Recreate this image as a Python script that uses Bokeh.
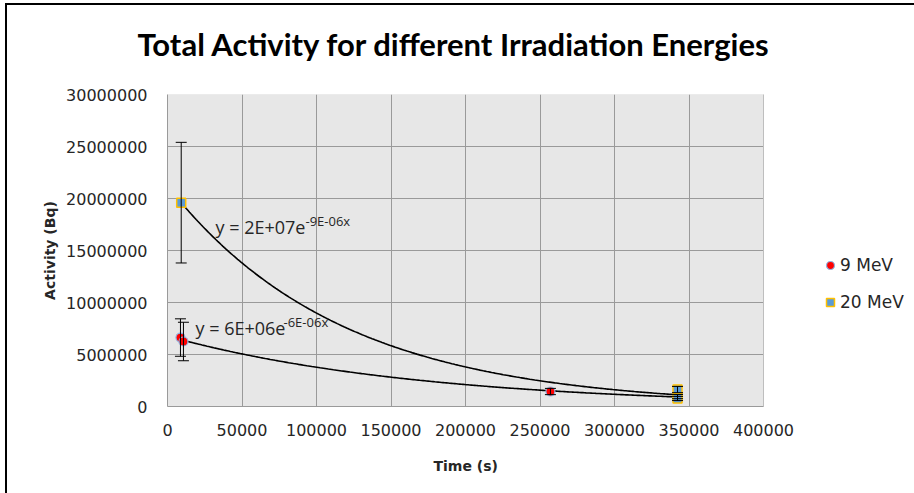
import numpy as np
from bokeh.plotting import figure
from bokeh.models import (ColumnDataSource, Whisker, TeeHead, Label, Legend, LegendItem,
                          FixedTicker, NumeralTickFormatter, BoxAnnotation, Title)
from bokeh.embed import file_html
from bokeh.resources import INLINE

# ---- data ----
time_9 = [8700, 10700, 257000, 342300]
act_9 = [6.63e6, 6.25e6, 1.44e6, 0.95e6]
err_9 = [1.80e6, 1.85e6, 0.30e6, 0.20e6]

time_20 = [9200, 342300, 342300]
act_20 = [19.6e6, 1.63e6, 0.77e6]
err_20 = [5.8e6, 0.30e6, 0.20e6]

x_ticks = [0, 50000, 100000, 150000, 200000, 250000, 300000, 350000, 400000]
y_ticks = [0, 5000000, 10000000, 15000000, 20000000, 25000000, 30000000]
x_min, x_max = 0, 400000
y_min, y_max = 0, 30000000

series_names = ["9 MeV", "20 MeV"]
eq_9 = ("y = 6E+06e", "-6E-06x")
eq_20 = ("y = 2E+07e", "-9E-06x")

# ---- figure: the frame runs on to the right edge so the legend can sit there ----
plot_w, frame_w = 596, 747
p = figure(frame_width=frame_w, frame_height=312, output_backend="svg", toolbar_location=None,
           x_range=(x_min, x_max * frame_w / plot_w), y_range=(y_min, y_max),
           min_border_left=160, min_border_right=0, min_border_top=89, min_border_bottom=87,
           background_fill_color="white", border_fill_color="white")
p.styles = {"margin-top": "3px", "margin-left": "5px",
            "border-top": "2px solid black", "border-left": "2px solid black"}
p.outline_line_color = None

# plot area (grey), cover of the grid beyond it (white), and its border
p.add_layout(BoxAnnotation(left=x_min, right=x_max, bottom=y_min, top=y_max,
                           fill_color="#E7E7E7", fill_alpha=1, line_color=None, level="image"))
p.add_layout(BoxAnnotation(left=x_max, fill_color="white", fill_alpha=1,
                           line_color=None, level="underlay"))
p.add_layout(BoxAnnotation(left=x_min, right=x_max, bottom=y_min, top=y_max,
                           fill_alpha=0, line_color="#9A9A9A", line_width=1, level="underlay"))

# title (a blank inner title keeps the space under it)
p.add_layout(Title(text=" ", text_font_size="10px", standoff=17), "above")
p.title.text = "Total Activity for different Irradiation Energies"
p.title.align = "left"
p.title.offset = -30
p.title.text_font = "Lato"
p.title.text_font_style = "bold"
p.title.text_font_size = "31px"
p.title.text_color = "black"
p.title.standoff = 4

for ax in (p.xaxis[0], p.yaxis[0]):
    ax.major_tick_in = 0
    ax.major_tick_out = 0
    ax.minor_tick_in = 0
    ax.minor_tick_out = 0
    ax.axis_line_color = "#9A9A9A"
    ax.major_label_text_font = "DejaVu Sans"
    ax.major_label_text_font_size = "16px"
    ax.major_label_text_color = "#262626"
    ax.axis_label_text_font = "DejaVu Sans"
    ax.axis_label_text_font_style = "bold"
    ax.axis_label_text_font_size = "14px"
    ax.axis_label_text_color = "#262626"
    ax.formatter = NumeralTickFormatter(format="0")

p.xaxis[0].ticker = FixedTicker(ticks=x_ticks)
p.yaxis[0].ticker = FixedTicker(ticks=y_ticks)
p.xaxis[0].bounds = (x_min, x_max)
p.yaxis[0].axis_label = "Activity (Bq)"
p.xaxis[0].major_label_standoff = 17
p.yaxis[0].major_label_standoff = 20
p.yaxis[0].axis_label_standoff = 5

# x-axis title, centred under the plot area (not under the widened frame)
p.add_layout(Title(text="Time (s)", align="left", offset=266, vertical_align="top",
                   standoff=38, text_font="DejaVu Sans", text_font_style="bold",
                   text_font_size="14px", text_color="#262626"), "below")

p.grid.grid_line_color = "#9A9A9A"
p.grid.grid_line_width = 1
p.xgrid.ticker = FixedTicker(ticks=x_ticks)
p.ygrid.ticker = FixedTicker(ticks=y_ticks)

# ---- error bars ----
src9 = ColumnDataSource(dict(x=time_9, y=act_9,
                             upper=[a + e for a, e in zip(act_9, err_9)],
                             lower=[a - e for a, e in zip(act_9, err_9)]))
src20 = ColumnDataSource(dict(x=time_20, y=act_20,
                              upper=[a + e for a, e in zip(act_20, err_20)],
                              lower=[a - e for a, e in zip(act_20, err_20)]))
for s in (src9, src20):
    w = Whisker(source=s, base="x", upper="upper", lower="lower", level="glyph",
                line_color="black", line_width=1,
                upper_head=TeeHead(size=11, line_color="black", line_width=1),
                lower_head=TeeHead(size=11, line_color="black", line_width=1))
    p.add_layout(w)

# ---- exponential trend lines (least squares on ln y, as Excel does) ----
def trend(xs, ys):
    k, lnA = np.polyfit(np.array(xs, float), np.log(np.array(ys, float)), 1)
    xx = np.linspace(min(xs), max(xs), 300)
    return xx, np.exp(lnA) * np.exp(k * xx)

tx9, ty9 = trend(time_9, act_9)
tx20, ty20 = trend(time_20, act_20)
p.line(tx9, ty9, line_color="black", line_width=1.6)
p.line(tx20, ty20, line_color="black", line_width=1.6)

# ---- markers ----
r9 = p.scatter("x", "y", source=src9, marker="circle", size=9,
               fill_color="#FF0000", line_color="#8EB4E3", line_width=1.2)
r20 = p.scatter("x", "y", source=src20, marker="square", size=9,
                fill_color="#5B9BD5", line_color="#FFC000", line_width=1.5)

# ---- trendline equations ----
eq_font = "Open Sans"
p.add_layout(Label(x=32200, y=17.25e6, text=eq_20[0], text_font=eq_font,
                   text_font_size="18px", text_color="#262626", text_baseline="alphabetic"))
p.add_layout(Label(x=92600, y=17.85e6, text=eq_20[1], text_font=eq_font,
                   text_font_size="13px", text_color="#262626", text_baseline="alphabetic"))
p.add_layout(Label(x=18800, y=7.52e6, text=eq_9[0], text_font=eq_font,
                   text_font_size="18px", text_color="#262626", text_baseline="alphabetic"))
p.add_layout(Label(x=77850, y=8.10e6, text=eq_9[1], text_font=eq_font,
                   text_font_size="13px", text_color="#262626", text_baseline="alphabetic"))

# ---- legend ----
legend = Legend(items=[LegendItem(label=series_names[0], renderers=[r9]),
                       LegendItem(label=series_names[1], renderers=[r20])],
                location=(653, 93), orientation="vertical",
                padding=0, margin=0, spacing=15, glyph_width=20, glyph_height=22,
                label_height=22, label_standoff=0,
                label_text_font="DejaVu Sans", label_text_font_size="17px",
                label_text_color="#262626",
                border_line_color=None, background_fill_alpha=0)
p.add_layout(legend, "center")

open("out.html", "w").write(file_html(p, INLINE))
